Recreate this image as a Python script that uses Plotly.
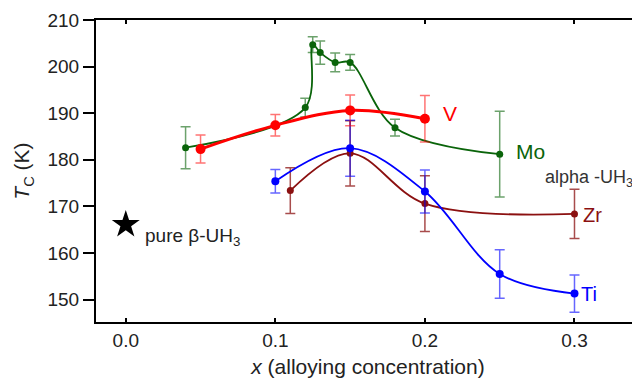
import plotly.graph_objects as go

# Tc vs alloying concentration for doped beta-UH3
v_x = [0.05, 0.10, 0.15, 0.20]
v_tc = [182.3, 187.4, 190.6, 188.8]
v_err = [3.0, 2.3, 3.3, 5.0]

mo_x = [0.04, 0.12, 0.125, 0.13, 0.14, 0.15, 0.18, 0.25]
mo_tc = [182.6, 191.2, 204.7, 203.0, 200.9, 200.9, 186.9, 181.2]
mo_err = [4.5, 2.0, 1.7, 2.5, 2.0, 1.7, 1.8, 9.2]

ti_x = [0.10, 0.15, 0.20, 0.25, 0.30]
ti_tc = [175.4, 182.5, 173.2, 155.5, 151.3]
ti_err = [2.5, 6.0, 4.6, 5.2, 4.0]

zr_x = [0.11, 0.15, 0.20, 0.30]
zr_tc = [173.4, 181.4, 170.6, 168.4]
zr_err = [4.9, 7.0, 6.0, 5.3]

pure_x = [0.0]
pure_tc = [166.1]

FONT = "Liberation Sans, Arial, sans-serif"

series = [
    # name, x, y, err, line colour, error colour, line width, marker size
    ("Zr", zr_x, zr_tc, zr_err, "#8b1010", "rgba(139,16,16,0.75)", 1.8, 7),
    ("Ti", ti_x, ti_tc, ti_err, "#0000ff", "rgba(0,0,255,0.6)", 1.8, 8),
    ("Mo", mo_x, mo_tc, mo_err, "#0a640a", "rgba(10,100,10,0.6)", 1.8, 7),
    ("V", v_x, v_tc, v_err, "#ff0000", "rgba(255,0,0,0.55)", 3, 10),
]

fig = go.Figure()
for name, xs, ys, es, col, ecol, lw, ms in series:
    fig.add_trace(go.Scatter(
        x=xs, y=ys, mode="lines+markers", name=name,
        line=dict(color=col, width=lw, shape="spline", smoothing=1),
        marker=dict(color=col, size=ms),
        error_y=dict(type="data", array=es, color=ecol, thickness=1.5, width=5),
        showlegend=False,
    ))

fig.add_trace(go.Scatter(
    x=pure_x, y=pure_tc, mode="markers",
    marker=dict(symbol="star", size=21, color="black"),
    showlegend=False,
))

labels = [
    (0.2106, 189.9, "V", "#ff0000", 21),
    (0.2596, 181.8, "Mo", "#0a640a", 21),
    (0.2789, 175.9, "alpha -UH<sub>3</sub>", "#333333", 18),
    (0.3043, 168.2, "Zr", "#8b1010", 20),
    (0.3032, 151.3, "Ti", "#0000ff", 20),
    (0.0114, 163.5, "pure β-UH<sub>3</sub>", "#222222", 19),
]
for lx, ly, txt, col, fs in labels:
    fig.add_annotation(x=lx, y=ly, text=txt, showarrow=False,
                       xanchor="left", yanchor="middle",
                       font=dict(family=FONT, size=fs, color=col))

fig.update_xaxes(
    range=[-0.0199, 0.3438],
    tickvals=[0.0, 0.1, 0.2, 0.3], ticktext=["0.0", "0.1", "0.2", "0.3"],
    ticks="inside", ticklen=4, tickwidth=2, tickcolor="black",
    showline=True, linewidth=2, linecolor="black", mirror="ticks",
    showgrid=False, zeroline=False,
    tickfont=dict(family=FONT, size=19, color="#222"),
    title=dict(text="<i>x</i> (alloying concentration)", standoff=12,
               font=dict(family=FONT, size=21, color="#222")),
)
fig.update_yaxes(
    range=[145.2, 210],
    tickvals=[150, 160, 170, 180, 190, 200, 210],
    ticks="outside", ticklen=11, tickwidth=2, tickcolor="black",
    showline=True, linewidth=2, linecolor="black",
    showgrid=False, zeroline=False,
    tickfont=dict(family=FONT, size=19, color="#222"),
    title=dict(text="<i>T</i><sub>C</sub> (K)", standoff=12,
               font=dict(family=FONT, size=21, color="#222")),
)

# page body has an 8px margin, so the figure is shifted by 8px;
# keep the page from overflowing the 640x390 window
fig.update_layout(
    width=632, height=370,
    margin=dict(l=88, r=0, t=12, b=56),
    plot_bgcolor="white", paper_bgcolor="white",
    font=dict(family=FONT),
)

fig.write_html("out.html")
